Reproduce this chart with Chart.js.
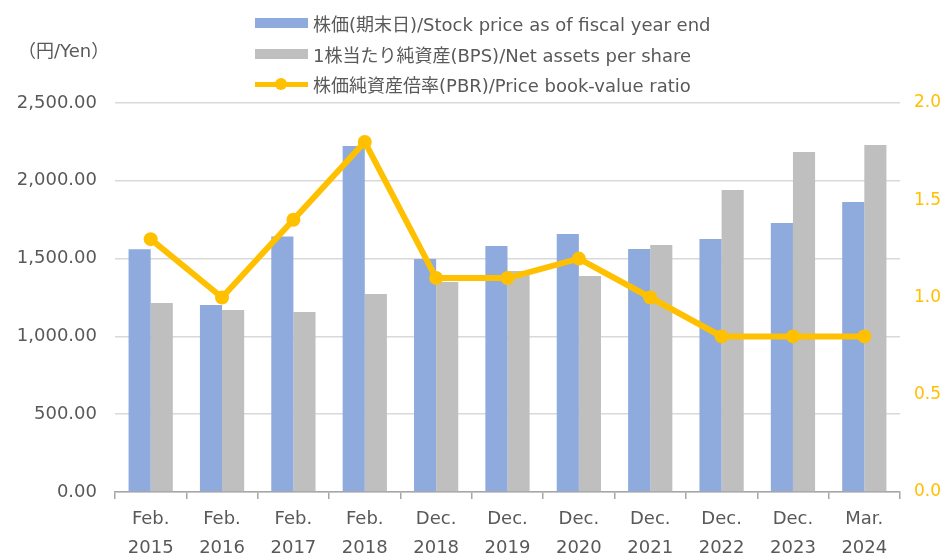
<!DOCTYPE html>
<html>
<head>
<meta charset="utf-8">
<script src="https://cdn.jsdelivr.net/npm/chart.js@4/dist/chart.umd.min.js"></script>
<style>
  body { margin: 0; background: #fff; }
  #wrap { position: relative; width: 944px; height: 557px; }
  #legend { position: absolute; left: 255px; top: 8px; font-family: "DejaVu Sans", "Noto Sans CJK JP", sans-serif; font-size: 18px; color: #595959; }
  .item { display: flex; align-items: center; height: 30.5px; }
  .sw { width: 53px; margin-right: 5px; position: relative; height: 14px; }
  #unit { position: absolute; left: 18px; top: 36px; font-family: "DejaVu Sans", "Noto Sans CJK JP", sans-serif; font-size: 18px; color: #595959; }
</style>
</head>
<body>
<div id="wrap">
  <canvas id="chart" width="944" height="557"></canvas>
  <div id="legend"></div>
  <div id="unit">（円/Yen）</div>
</div>
<script>
// categories (two-line labels)
var categories = [
  ["Feb.", "2015"], ["Feb.", "2016"], ["Feb.", "2017"], ["Feb.", "2018"],
  ["Dec.", "2018"], ["Dec.", "2019"], ["Dec.", "2020"], ["Dec.", "2021"],
  ["Dec.", "2022"], ["Dec.", "2023"], ["Mar.", "2024"]
];

// series values
var stockPrice = [1560, 1202, 1642, 2224, 1497, 1581, 1658, 1562, 1626, 1729, 1864];
var bps = [1215, 1170, 1157, 1272, 1350, 1420, 1388, 1587, 1941, 2185, 2230];
var pbr = [1.3, 1.0, 1.4, 1.8, 1.1, 1.1, 1.2, 1.0, 0.8, 0.8, 0.8];

var seriesLabels = [
  "株価(期末日)/Stock price as of fiscal year end",
  "1株当たり純資産(BPS)/Net assets per share",
  "株価純資産倍率(PBR)/Price book-value ratio"
];

var blue = "#8FAADC";
var gray = "#BFBFBF";
var gold = "#FFC000";
var textColor = "#595959";
var numFont = { family: "'DejaVu Sans', sans-serif", size: 18 };

var ctx = document.getElementById("chart").getContext("2d");
var chart = new Chart(ctx, {
  type: "bar",
  data: {
    labels: categories,
    datasets: [
      {
        type: "line",
        label: seriesLabels[2],
        data: pbr,
        yAxisID: "y1",
        borderColor: gold,
        backgroundColor: gold,
        borderWidth: 6,
        pointRadius: 7,
        pointBackgroundColor: gold,
        pointBorderWidth: 0,
        tension: 0,
        order: 0
      },
      {
        label: seriesLabels[0],
        data: stockPrice,
        yAxisID: "y",
        backgroundColor: blue,
        categoryPercentage: 0.62,
        barPercentage: 1.0,
        order: 1
      },
      {
        label: seriesLabels[1],
        data: bps,
        yAxisID: "y",
        backgroundColor: gray,
        categoryPercentage: 0.62,
        barPercentage: 1.0,
        order: 1
      }
    ]
  },
  options: {
    responsive: false,
    animation: false,
    layout: { padding: { top: 103, left: 0, right: 0, bottom: 0 } },
    plugins: {
      legend: { display: false },
      tooltip: { enabled: false }
    },
    scales: {
      x: {
        grid: {
          offset: true,
          drawOnChartArea: false,
          drawTicks: true,
          tickLength: 7,
          color: "#A6A6A6",
          lineWidth: 1.5
        },
        border: { display: true, color: "#A6A6A6", width: 1.5 },
        ticks: {
          color: textColor,
          font: { family: "'DejaVu Sans', sans-serif", size: 18, lineHeight: 1.6 },
          padding: 6,
          maxRotation: 0,
          autoSkip: false
        },
        afterFit: function (scale) { scale.height = 65; }
      },
      y: {
        position: "left",
        min: 0,
        max: 2500,
        ticks: {
          stepSize: 500,
          color: textColor,
          font: numFont,
          padding: 18,
          callback: function (v) {
            return v.toLocaleString("en-US", { minimumFractionDigits: 2, maximumFractionDigits: 2 });
          }
        },
        grid: { color: "#D9D9D9", lineWidth: 1.5, drawTicks: false },
        border: { display: false },
        afterFit: function (scale) { scale.width = 115; }
      },
      y1: {
        position: "right",
        min: 0,
        max: 2.0,
        ticks: {
          stepSize: 0.5,
          color: gold,
          font: { family: "'DejaVu Sans', sans-serif", size: 17 },
          padding: 14,
          callback: function (v) { return v.toFixed(1); }
        },
        grid: { display: false, drawTicks: false },
        border: { display: false },
        afterFit: function (scale) { scale.width = 44; }
      }
    }
  }
});

// HTML legend built from the chart datasets, in the reference's order
var legendOrder = [1, 2, 0];
var legendEl = document.getElementById("legend");
legendOrder.forEach(function (i) {
  var ds = chart.data.datasets[i];
  var row = document.createElement("div");
  row.className = "item";
  var sw = document.createElement("div");
  sw.className = "sw";
  if (ds.type === "line") {
    sw.innerHTML = '<div style="position:absolute;left:0;top:4.5px;width:53px;height:5px;background:' + gold + '"></div>' +
      '<div style="position:absolute;left:20px;top:1px;width:12px;height:12px;border-radius:6px;background:' + gold + '"></div>';
  } else {
    sw.innerHTML = '<div style="position:absolute;left:0;top:2px;width:53px;height:10px;background:' + ds.backgroundColor + '"></div>';
  }
  var txt = document.createElement("span");
  txt.innerText = ds.label;
  row.appendChild(sw);
  row.appendChild(txt);
  legendEl.appendChild(row);
});
</script>
</body>
</html>
